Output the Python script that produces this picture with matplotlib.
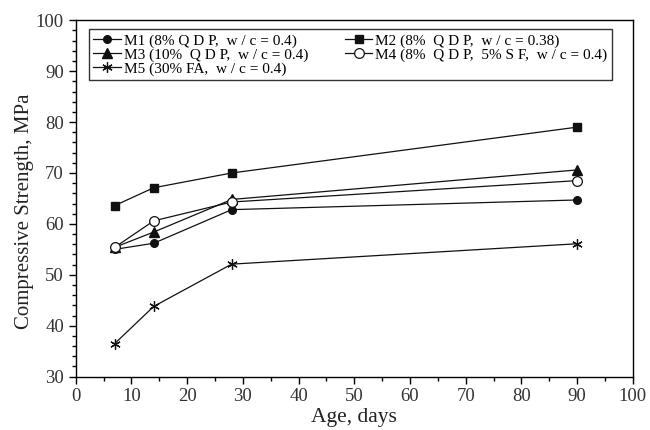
import matplotlib.pyplot as plt
from matplotlib.ticker import MultipleLocator

# Data
ages = [7, 14, 28, 90]
m1 = [55.0, 56.2, 62.8, 64.7]
m2 = [63.6, 67.1, 70.0, 79.0]
m3 = [55.4, 58.4, 64.8, 70.6]
m4 = [55.4, 60.6, 64.3, 68.5]
m5 = [36.5, 43.8, 52.1, 56.1]

labels = [
    "M1 (8% Q D P,  w / c = 0.4)",
    "M2 (8%  Q D P,  w / c = 0.38)",
    "M3 (10%  Q D P,  w / c = 0.4)",
    "M4 (8%  Q D P,  5% S F,  w / c = 0.4)",
    "M5 (30% FA,  w / c = 0.4)",
]

plt.rcParams['font.family'] = ['Liberation Serif', 'DejaVu Serif']

fig = plt.figure(figsize=(6.5, 4.3), dpi=100)
ax = fig.add_axes([0.1165, 0.124, 0.857, 0.829])

line_kw = dict(color='#111111', linewidth=0.9)
h1, = ax.plot(ages, m1, marker='o', markersize=5.5, label=labels[0], **line_kw)
h2, = ax.plot(ages, m2, marker='s', markersize=6, label=labels[1], **line_kw)
h3, = ax.plot(ages, m3, marker='^', markersize=6.5, label=labels[2], **line_kw)
h4, = ax.plot(ages, m4, marker='o', markersize=7, markerfacecolor='white',
              markeredgewidth=0.9, label=labels[3], **line_kw)
h5, = ax.plot(ages, m5, marker=(6, 2, 0), markersize=7.5, markeredgewidth=0.9,
              label=labels[4], **line_kw)

ax.set_xlim(0, 100)
ax.set_ylim(30, 100)
ax.xaxis.set_major_locator(MultipleLocator(10))
ax.xaxis.set_minor_locator(MultipleLocator(5))
ax.yaxis.set_major_locator(MultipleLocator(10))
ax.yaxis.set_minor_locator(MultipleLocator(2))
ax.tick_params(which='both', direction='out', top=False, right=False,
               labelsize=13.5, width=1.0, colors='black')
ax.tick_params(which='major', length=5)
ax.tick_params(which='minor', length=3)
ax.tick_params(axis='both', labelcolor='#333333')
for sp in ax.spines.values():
    sp.set_linewidth(1.0)

ax.set_xlabel("Age, days", fontsize=15.5, labelpad=2, color='#222222')
ax.set_ylabel("Compressive Strength, MPa", fontsize=15, color='#222222')
ax.yaxis.set_label_coords(-0.075, 0.465)

leg = ax.legend([h1, h3, h5, h2, h4],
                [labels[0], labels[2], labels[4], labels[1], labels[3]],
                ncol=2, loc='upper left', bbox_to_anchor=(0.0233, 0.975),
                borderaxespad=0, fontsize=11, frameon=True, fancybox=False,
                edgecolor='black', handlelength=1.8, handletextpad=0.2,
                columnspacing=2.4, labelspacing=0.02, borderpad=0.3)
leg.get_frame().set_linewidth(1.0)

fig.savefig("out.png", dpi=100)
